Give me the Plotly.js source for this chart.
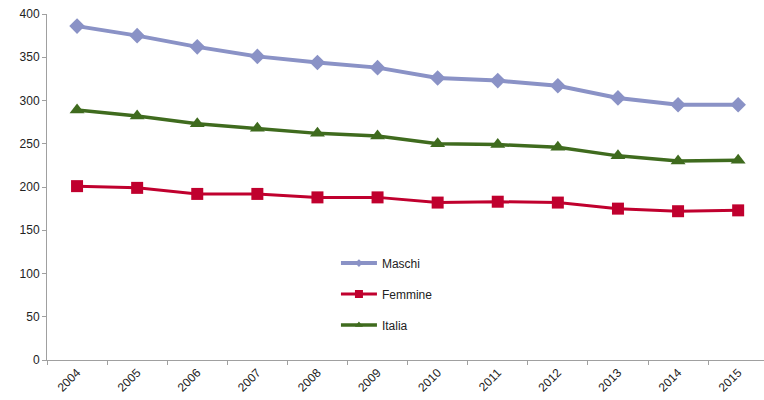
<!DOCTYPE html>
<html><head><meta charset="utf-8">
<script src="https://cdn.plot.ly/plotly-3.0.1.min.js"></script>
<style>html,body{margin:0;padding:0;background:#fff}#c{width:764px;height:400px}</style>
</head><body><div id="c"></div>
<script>
const years = ["2004","2005","2006","2007","2008","2009","2010","2011","2012","2013","2014","2015"];
const maschi = [386, 375, 362, 351, 344, 338, 326, 323, 317, 303, 295, 295];
const femmine = [201, 199, 192, 192, 188, 188, 182, 183, 182, 175, 172, 173];
const italia = [289, 282, 273, 268, 262, 259, 250, 249, 246, 236, 230, 231];
const seriesNames = ["Maschi", "Femmine", "Italia"];

const colors = ["#8A92C6", "#C0002E", "#3F6B1E"];
const symbols = ["diamond", "square", "triangle-up"];
const widths = [4, 3, 3.5];
const sizes = [12, 12, 13];
const legendSizes = [6, 8, 7];
const data = [maschi, femmine, italia];

const traces = [];
data.forEach((vals, i) => {
  traces.push({x: years, y: vals, name: seriesNames[i], type: "scatter", mode: "lines+markers",
    showlegend: false, line: {color: colors[i], width: widths[i]},
    marker: {symbol: symbols[i], size: sizes[i], color: colors[i]}});
});
// legend entries (no plotted marks) with the small legend markers of the original
data.forEach((vals, i) => {
  traces.push({x: [null], y: [null], name: seriesNames[i], type: "scatter", mode: "lines+markers",
    legendgroup: "g" + i, line: {color: colors[i], width: widths[i]},
    marker: {symbol: symbols[i], size: legendSizes[i], color: colors[i]}});
});

const layout = {
  width: 764, height: 400,
  margin: {l: 47, r: 0, t: 14, b: 40},
  paper_bgcolor: "#fff", plot_bgcolor: "#fff",
  font: {family: "Liberation Sans, Arial, sans-serif", size: 12, color: "#222"},
  showlegend: true,
  legend: {x: 0.403, y: 0.322, xanchor: "left", yanchor: "top", bgcolor: "rgba(0,0,0,0)",
           font: {size: 12, color: "#222"}, tracegroupgap: 12, itemwidth: 36},
  xaxis: {type: "category", range: [-0.5, 11.43], showgrid: false, zeroline: false,
          showline: true, linecolor: "#A0A0A0", linewidth: 1,
          ticks: "outside", tickson: "boundaries", ticklen: 4, tickcolor: "#A0A0A0",
          tickangle: -45, tickfont: {size: 12, color: "#222"}},
  yaxis: {range: [0, 400], dtick: 50, showgrid: false, zeroline: false,
          showline: true, linecolor: "#A0A0A0", linewidth: 1,
          ticks: "outside", ticklen: 4, tickcolor: "#A0A0A0",
          tickfont: {size: 12, color: "#222"}}
};
Plotly.newPlot("c", traces, layout, {displayModeBar: false, staticPlot: true});
</script></body></html>
